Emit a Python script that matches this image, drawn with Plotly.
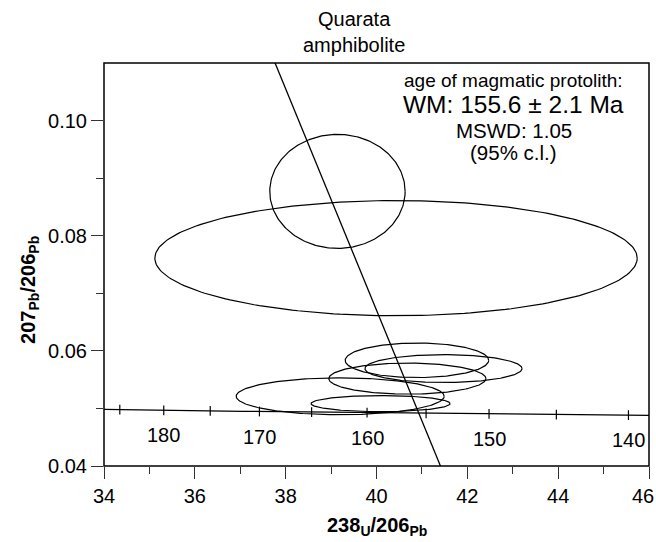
import numpy as np
import plotly.graph_objects as go

# ---- constants for the U-Pb concordia (Tera-Wasserburg) ----
L238 = 1.55125e-10
L235 = 9.8485e-10
U_RATIO = 137.88

# ---- data: error ellipses (centre and semi-axes) ----
ell_x = [39.14, 40.43, 40.89, 41.475, 40.68, 39.20, 40.09]
ell_y = [0.0877, 0.0761, 0.05836, 0.05692, 0.05518, 0.05211, 0.05084]
ell_sx = [1.49, 5.31, 1.58, 1.73, 1.73, 2.29, 1.53]
ell_sy = [0.0099, 0.0100, 0.0030, 0.00243, 0.0027, 0.0032, 0.0014]

# ---- concordia ages (Ma) ----
concordia_age_range = [138.6, 187.7]
tick_ages = [185, 180, 175, 170, 165, 160, 155, 150, 145, 140]
label_ages = [180, 170, 160, 150, 140]

# ---- weighted mean / discordia anchor ----
common_pb = 0.836
wm_age = 155.6

x_range = [34, 46]
y_range = [0.04, 0.11]
x_ticks = [34, 36, 38, 40, 42, 44, 46]
x_ticklabels = ["34", "36", "38", "40", "42", "44", ""]
x_last_label = "46"
x_minor_ticks = [35, 37, 39, 41, 43, 45]
y_ticks = [0.04, 0.06, 0.08, 0.10]
y_ticklabels = ["0.04", "0.06", "0.08", "0.10"]
y_minor_ticks = [0.05, 0.07, 0.09]


def tw(age_ma):
    t = np.asarray(age_ma, dtype=float) * 1e6
    r238 = np.exp(L238 * t) - 1
    r235 = np.exp(L235 * t) - 1
    return 1.0 / r238, r235 / r238 / U_RATIO


FONT = "Liberation Sans, Arial, Helvetica, sans-serif"
fig = go.Figure()

# error ellipses
for cx, cy, sx, sy in zip(ell_x, ell_y, ell_sx, ell_sy):
    th = np.linspace(0, 2 * np.pi, 241)
    fig.add_trace(go.Scatter(x=cx + sx * np.cos(th), y=cy + sy * np.sin(th),
                             mode="lines", line=dict(color="black", width=1.2),
                             hoverinfo="skip", showlegend=False))

# concordia curve
ages = np.linspace(concordia_age_range[0], concordia_age_range[1], 200)
cxs, cys = tw(ages)
fig.add_trace(go.Scatter(x=cxs, y=cys, mode="lines", cliponaxis=False,
                         line=dict(color="black", width=1.3),
                         hoverinfo="skip", showlegend=False))

# concordia age tick marks
tx, ty = tw(tick_ages)
seg_x, seg_y = [], []
dy = 0.00085
for a, b in zip(tx, ty):
    seg_x += [a, a, None]
    seg_y += [b - dy, b + dy, None]
fig.add_trace(go.Scatter(x=seg_x, y=seg_y, mode="lines",
                         line=dict(color="black", width=1.2),
                         hoverinfo="skip", showlegend=False))

# discordia line through common Pb and the concordia point at wm_age
wx, wy = tw([wm_age])
slope = (wy[0] - common_pb) / wx[0]
line_x = [(0.12 - common_pb) / slope, (0.03 - common_pb) / slope]
line_y = [common_pb + slope * v for v in line_x]
fig.add_trace(go.Scatter(x=line_x, y=line_y, mode="lines",
                         line=dict(color="black", width=1.3),
                         hoverinfo="skip", showlegend=False))

# invisible trace carrying the overlay axes used for minor ticks
fig.add_trace(go.Scatter(x=[x_range[0]], y=[y_range[0]], xaxis="x2", yaxis="y2",
                         mode="markers", marker=dict(opacity=0),
                         hoverinfo="skip", showlegend=False))

# concordia age labels
lx, ly = tw(label_ages)
for a, xv, yv in zip(label_ages, lx, ly):
    fig.add_annotation(x=xv, y=yv, xref="x", yref="y", text=str(a),
                       showarrow=False, yshift=-25, xanchor="center",
                       font=dict(family=FONT, size=20, color="black"))

# last x tick label, kept inside the page
fig.add_annotation(x=x_ticks[-1], y=0, xref="x", yref="paper", text=x_last_label,
                   showarrow=False, xanchor="right", yanchor="middle",
                   xshift=7, yshift=-30,
                   font=dict(family=FONT, size=20, color="black"))

# title
fig.add_annotation(x=0.458, y=1, xref="paper", yref="paper",
                   text="Quarata<br>amphibolite", showarrow=False,
                   xanchor="center", yanchor="bottom", yshift=5,
                   font=dict(family=FONT, size=20, color="black"))

# result text
res_lines = [("age of magmatic protolith:", 19, 80),
             ("WM: 155.6 \u00b1 2.1 Ma", 24.5, 104),
             ("MSWD: 1.05", 20.5, 130),
             ("(95% c.l.)", 20.5, 152)]
for txt, sz, ypx in res_lines:
    fig.add_annotation(x=0.752, y=1, xref="paper", yref="paper", text=txt,
                       showarrow=False, xanchor="center", yanchor="middle",
                       yshift=-(ypx - 63),
                       font=dict(family=FONT, size=sz, color="black"))

# axis titles
fig.add_annotation(x=0.5, y=0, xref="paper", yref="paper",
                   text="<b>238<sub>U</sub>/206<sub>Pb</sub></b>",
                   showarrow=False, xanchor="center", yanchor="middle", yshift=-60,
                   font=dict(family=FONT, size=20, color="black"))
fig.add_annotation(x=0, y=0.437, xref="paper", yref="paper",
                   text="<b>207<sub>Pb</sub>/206<sub>Pb</sub></b>",
                   showarrow=False, xanchor="center", yanchor="middle",
                   textangle=-90, xshift=-74,
                   font=dict(family=FONT, size=20, color="black"))

# frame around the plot area
fig.add_shape(type="rect", xref="paper", yref="paper", x0=0, y0=0, x1=1, y1=1,
              line=dict(color="black", width=1.5), fillcolor="rgba(0,0,0,0)",
              layer="above")

common = dict(showgrid=False, zeroline=False, showline=False, mirror=False,
              automargin=False, ticks="outside", tickwidth=1.3, tickcolor="#333")
fig.update_layout(
    xaxis=dict(range=x_range, tickvals=x_ticks, ticktext=x_ticklabels, ticklen=12,
               tickfont=dict(family=FONT, size=20, color="black"), **common),
    yaxis=dict(range=y_range, tickvals=y_ticks, ticktext=y_ticklabels, ticklen=12,
               tickfont=dict(family=FONT, size=20, color="black"), **common),
    xaxis2=dict(range=x_range, tickvals=x_minor_ticks, ticklen=7, showticklabels=False,
                overlaying="x", side="bottom", anchor="y2", **common),
    yaxis2=dict(range=y_range, tickvals=y_minor_ticks, ticklen=7, showticklabels=False,
                overlaying="y", side="left", anchor="x2", **common),
    width=656, height=542, margin=dict(l=104, r=7, t=63, b=76),
    plot_bgcolor="white", paper_bgcolor="white", showlegend=False)

fig.write_html("out.html")
